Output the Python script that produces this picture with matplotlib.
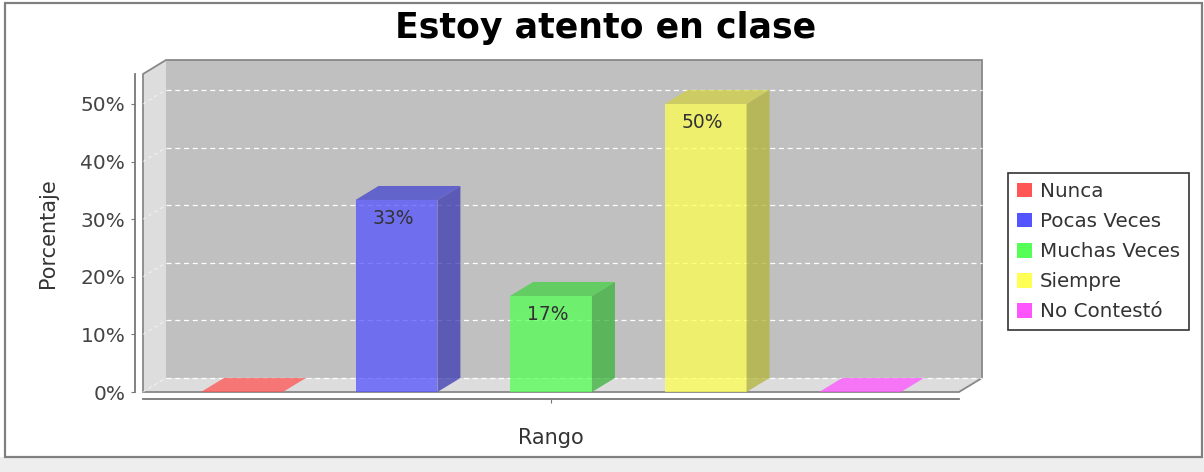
import matplotlib
matplotlib.use("Agg")
import matplotlib.pyplot as plt
from matplotlib.patches import Polygon, Rectangle, Patch

# data
categories = ["Nunca", "Pocas Veces", "Muchas Veces", "Siempre", "No Contestó"]
values = [0, 33.33, 16.67, 50, 0]
colors = ["#ff5555", "#5555ff", "#55ff55", "#ffff55", "#ff55ff"]
yticks = [0, 10, 20, 30, 40, 50]
ytick_labels = ["0%", "10%", "20%", "30%", "40%", "50%"]

W_PX, H_PX = 1204, 472
fig = plt.figure(figsize=(W_PX / 100, H_PX / 100), dpi=100)

# outer frame + grey strip at the bottom
fig.add_artist(Rectangle((0, 0), 1, 15 / H_PX, transform=fig.transFigure,
                         facecolor="#eeeeee", edgecolor="none", zorder=0))
fig.add_artist(Rectangle((5 / W_PX, 15 / H_PX), 1197 / W_PX, 454 / H_PX,
                         transform=fig.transFigure, facecolor="none",
                         edgecolor="#808080", lw=1.6, zorder=1))

# front plane of the 3d box
L, R, T, B = 143, 959, 74, 392
ax = fig.add_axes([L / W_PX, 1 - B / H_PX, (R - L) / W_PX, (B - T) / H_PX])
x0, x1 = -0.64, 4.64
ymax = 55.2
ax.set_xlim(x0, x1)
ax.set_ylim(0, ymax)
ax.patch.set_visible(False)

# depth offset (23 px right, 14 px up) in data units
dx = 23 * (x1 - x0) / (R - L)
dy = 14 * ymax / (B - T)

# walls
ax.add_patch(Rectangle((x0 + dx, dy), x1 - x0, ymax, facecolor="#c0c0c0",
                       edgecolor="none", zorder=0, clip_on=False))
ax.add_patch(Polygon([(x0, 0), (x0 + dx, dy), (x0 + dx, ymax + dy), (x0, ymax)],
                     facecolor="#dddddd", edgecolor="none", zorder=0, clip_on=False))
ax.add_patch(Polygon([(x0, 0), (x1, 0), (x1 + dx, dy), (x0 + dx, dy)],
                     facecolor="#dddddd", edgecolor="none", zorder=0, clip_on=False))
ax.add_patch(Polygon([(x0, 0), (x0, ymax), (x0 + dx, ymax + dy), (x1 + dx, ymax + dy),
                      (x1 + dx, dy), (x1, 0)],
                     facecolor="none", edgecolor="#888888", lw=1.3, zorder=1,
                     clip_on=False))

# grid lines on back wall and left wall
for v in yticks:
    ax.plot([x0 + dx, x1 + dx], [v + dy, v + dy], color="white", lw=0.9,
            ls=(0, (4, 3)), zorder=1, clip_on=False)
    ax.plot([x0, x0 + dx], [v, v + dy], color="white", lw=0.8, alpha=0.6,
            ls=(0, (3, 3)), zorder=1, clip_on=False)


def darker(c, f=0.7):
    r, g, b = matplotlib.colors.to_rgb(c)
    return (r * f, g * f, b * f)


bw = 0.53
alpha = 0.76
for i, (v, c) in enumerate(zip(values, colors)):
    xl, xr = i - bw / 2, i + bw / 2
    top_c = darker(c, 0.82) if v > 0 else c
    if v > 0:
        ax.bar(i, v, width=bw, color=c, alpha=alpha, lw=0, zorder=3)
        ax.add_patch(Polygon([(xr, 0), (xr, v), (xr + dx, v + dy), (xr + dx, dy)],
                             facecolor=darker(c), alpha=alpha, lw=0, zorder=3))
        ax.annotate(f"{v:.0f}%", (i, v), xytext=(-2, -13), textcoords="offset points",
                    ha="center", va="center", fontsize=13.5, color="#333333", zorder=5)
    ax.add_patch(Polygon([(xl, v), (xr, v), (xr + dx, v + dy), (xl + dx, v + dy)],
                         facecolor=top_c, alpha=alpha, lw=0, zorder=3))

# axes
for s in ["top", "right"]:
    ax.spines[s].set_visible(False)
ax.spines["left"].set_position(("outward", 5.8))
ax.spines["left"].set_bounds(0, ymax)
ax.spines["bottom"].set_position(("outward", 5))
for s in ["left", "bottom"]:
    ax.spines[s].set_color("#777777")
    ax.spines[s].set_linewidth(1.3)
ax.set_yticks(yticks)
ax.set_yticklabels(ytick_labels)
ax.set_xticks([2])
ax.set_xticklabels([""])
ax.tick_params(axis="both", direction="out", length=3, color="#777777",
               labelsize=14.5, labelcolor="#444444", pad=4)

ax.set_ylabel("Porcentaje", fontsize=15, color="#333333", labelpad=16)
ax.set_xlabel("Rango", fontsize=15, color="#333333", labelpad=14)

fig.text(0.503, 1 - 28 / H_PX, "Estoy atento en clase", ha="center", va="center",
         fontsize=25, fontweight="bold", color="black")

handles = [Patch(facecolor=c, edgecolor="none") for c in colors]
leg = fig.legend(handles, categories, loc="upper left",
                 bbox_to_anchor=(1008 / W_PX, 1 - 173 / H_PX),
                 fontsize=14.3, frameon=True, fancybox=False, edgecolor="black",
                 handlelength=0.75, handleheight=0.75, handletextpad=0.4,
                 labelspacing=0.56, borderpad=0.45, borderaxespad=0)
leg.get_frame().set_linewidth(1.2)
for t in leg.get_texts():
    t.set_color("#333333")

fig.savefig("out.png", dpi=100)
